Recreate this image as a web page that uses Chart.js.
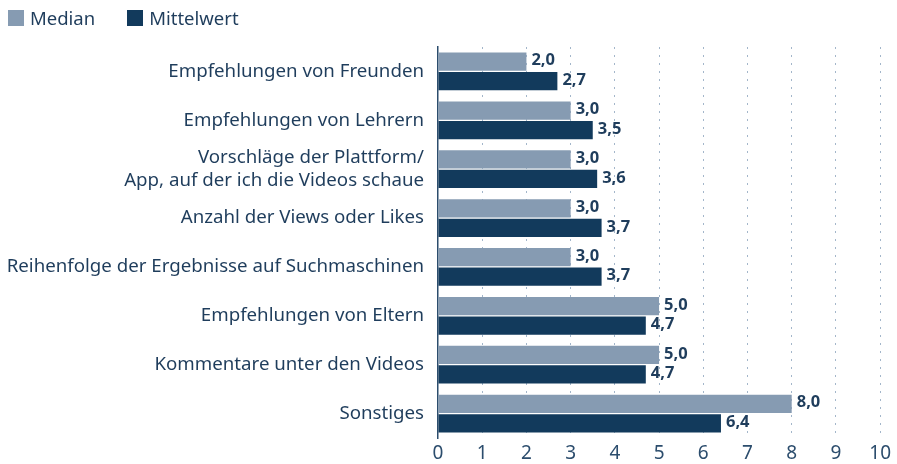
<!DOCTYPE html>
<html>
<head>
<meta charset="utf-8">
<script src="https://cdn.jsdelivr.net/npm/chart.js@4"></script>
<style>
  html, body { margin: 0; padding: 0; background: #ffffff; }
  #wrap { position: relative; width: 897px; height: 464px; }
  #legend { position: absolute; left: 8px; top: 7px; display: flex; font-family: 'Noto Sans', sans-serif; font-size: 18.5px; color: #1f3d5c; line-height: 22px; }
  .item { display: flex; align-items: center; margin-right: 32px; }
  .box { width: 16px; height: 16px; margin-right: 6px; }
</style>
</head>
<body>
<div id="wrap">
  <canvas id="chart"></canvas>
  <div id="legend"></div>
</div>
<script>
const categories = [
  'Empfehlungen von Freunden',
  'Empfehlungen von Lehrern',
  ['Vorschläge der Plattform/', 'App, auf der ich die Videos schaue'],
  'Anzahl der Views oder Likes',
  'Reihenfolge der Ergebnisse auf Suchmaschinen',
  'Empfehlungen von Eltern',
  'Kommentare unter den Videos',
  'Sonstiges'
];
const medianValues = [2.0, 3.0, 3.0, 3.0, 3.0, 5.0, 5.0, 8.0];
const meanValues = [2.7, 3.5, 3.6, 3.7, 3.7, 4.7, 4.7, 6.4];
const xTicks = [0, 1, 2, 3, 4, 5, 6, 7, 8, 9, 10];

const fontFamily = "'Noto Sans', sans-serif";
const textColor = '#1f3d5c';

// draws the value next to each bar, German decimal comma
const valueLabels = {
  id: 'valueLabels',
  afterDatasetsDraw(chart) {
    const ctx = chart.ctx;
    ctx.save();
    ctx.font = "bold 16.5px " + fontFamily;
    ctx.fillStyle = textColor;
    ctx.textAlign = 'left';
    ctx.textBaseline = 'middle';
    chart.data.datasets.forEach(function (ds, i) {
      chart.getDatasetMeta(i).data.forEach(function (bar, j) {
        const txt = ds.data[j].toFixed(1).replace('.', ',');
        ctx.fillText(txt, bar.x + 5, bar.y - 1);
      });
    });
    ctx.restore();
  }
};

const ctx = document.getElementById('chart').getContext('2d');
const chart = new Chart(ctx, {
  type: 'bar',
  data: {
    labels: categories,
    datasets: [
      {
        label: 'Median',
        data: medianValues,
        backgroundColor: '#869bb2',
        categoryPercentage: 0.8,
        barPercentage: 0.93
      },
      {
        label: 'Mittelwert',
        data: meanValues,
        backgroundColor: '#123a5c',
        categoryPercentage: 0.8,
        barPercentage: 0.93
      }
    ]
  },
  options: {
    indexAxis: 'y',
    responsive: true,
    maintainAspectRatio: false,
    animation: false,
    layout: { padding: { left: 0, right: 9, top: 47, bottom: -5 } },
    scales: {
      x: {
        min: 0,
        max: 10,
        afterBuildTicks(scale) { scale.ticks = xTicks.map(v => ({ value: v })); },
        grid: {
          color: function (c) { return c.tick && c.tick.value === 0 ? 'rgba(0,0,0,0)' : '#a3b6ca'; },
          lineWidth: 1,
          drawTicks: false
        },
        border: { display: false, dash: [2, 6] },
        ticks: {
          color: '#2c4d6d',
          font: { family: fontFamily, size: 19, lineHeight: 1.0 },
          padding: 6
        }
      },
      y: {
        afterFit(scale) { scale.width = 438; },
        grid: { display: false, drawTicks: false },
        border: { display: true, color: '#2c4d6d', width: 1.5 },
        ticks: {
          color: textColor,
          font: { family: fontFamily, size: 18.7 },
          padding: 14
        }
      }
    },
    plugins: {
      legend: { display: false },
      tooltip: { enabled: false }
    }
  },
  plugins: [valueLabels]
});

// legend built from the chart's own datasets
const legendEl = document.getElementById('legend');
chart.data.datasets.forEach(function (ds) {
  const item = document.createElement('div');
  item.className = 'item';
  const box = document.createElement('span');
  box.className = 'box';
  box.style.background = ds.backgroundColor;
  const label = document.createElement('span');
  label.textContent = ds.label;
  item.appendChild(box);
  item.appendChild(label);
  legendEl.appendChild(item);
});
</script>
</body>
</html>
